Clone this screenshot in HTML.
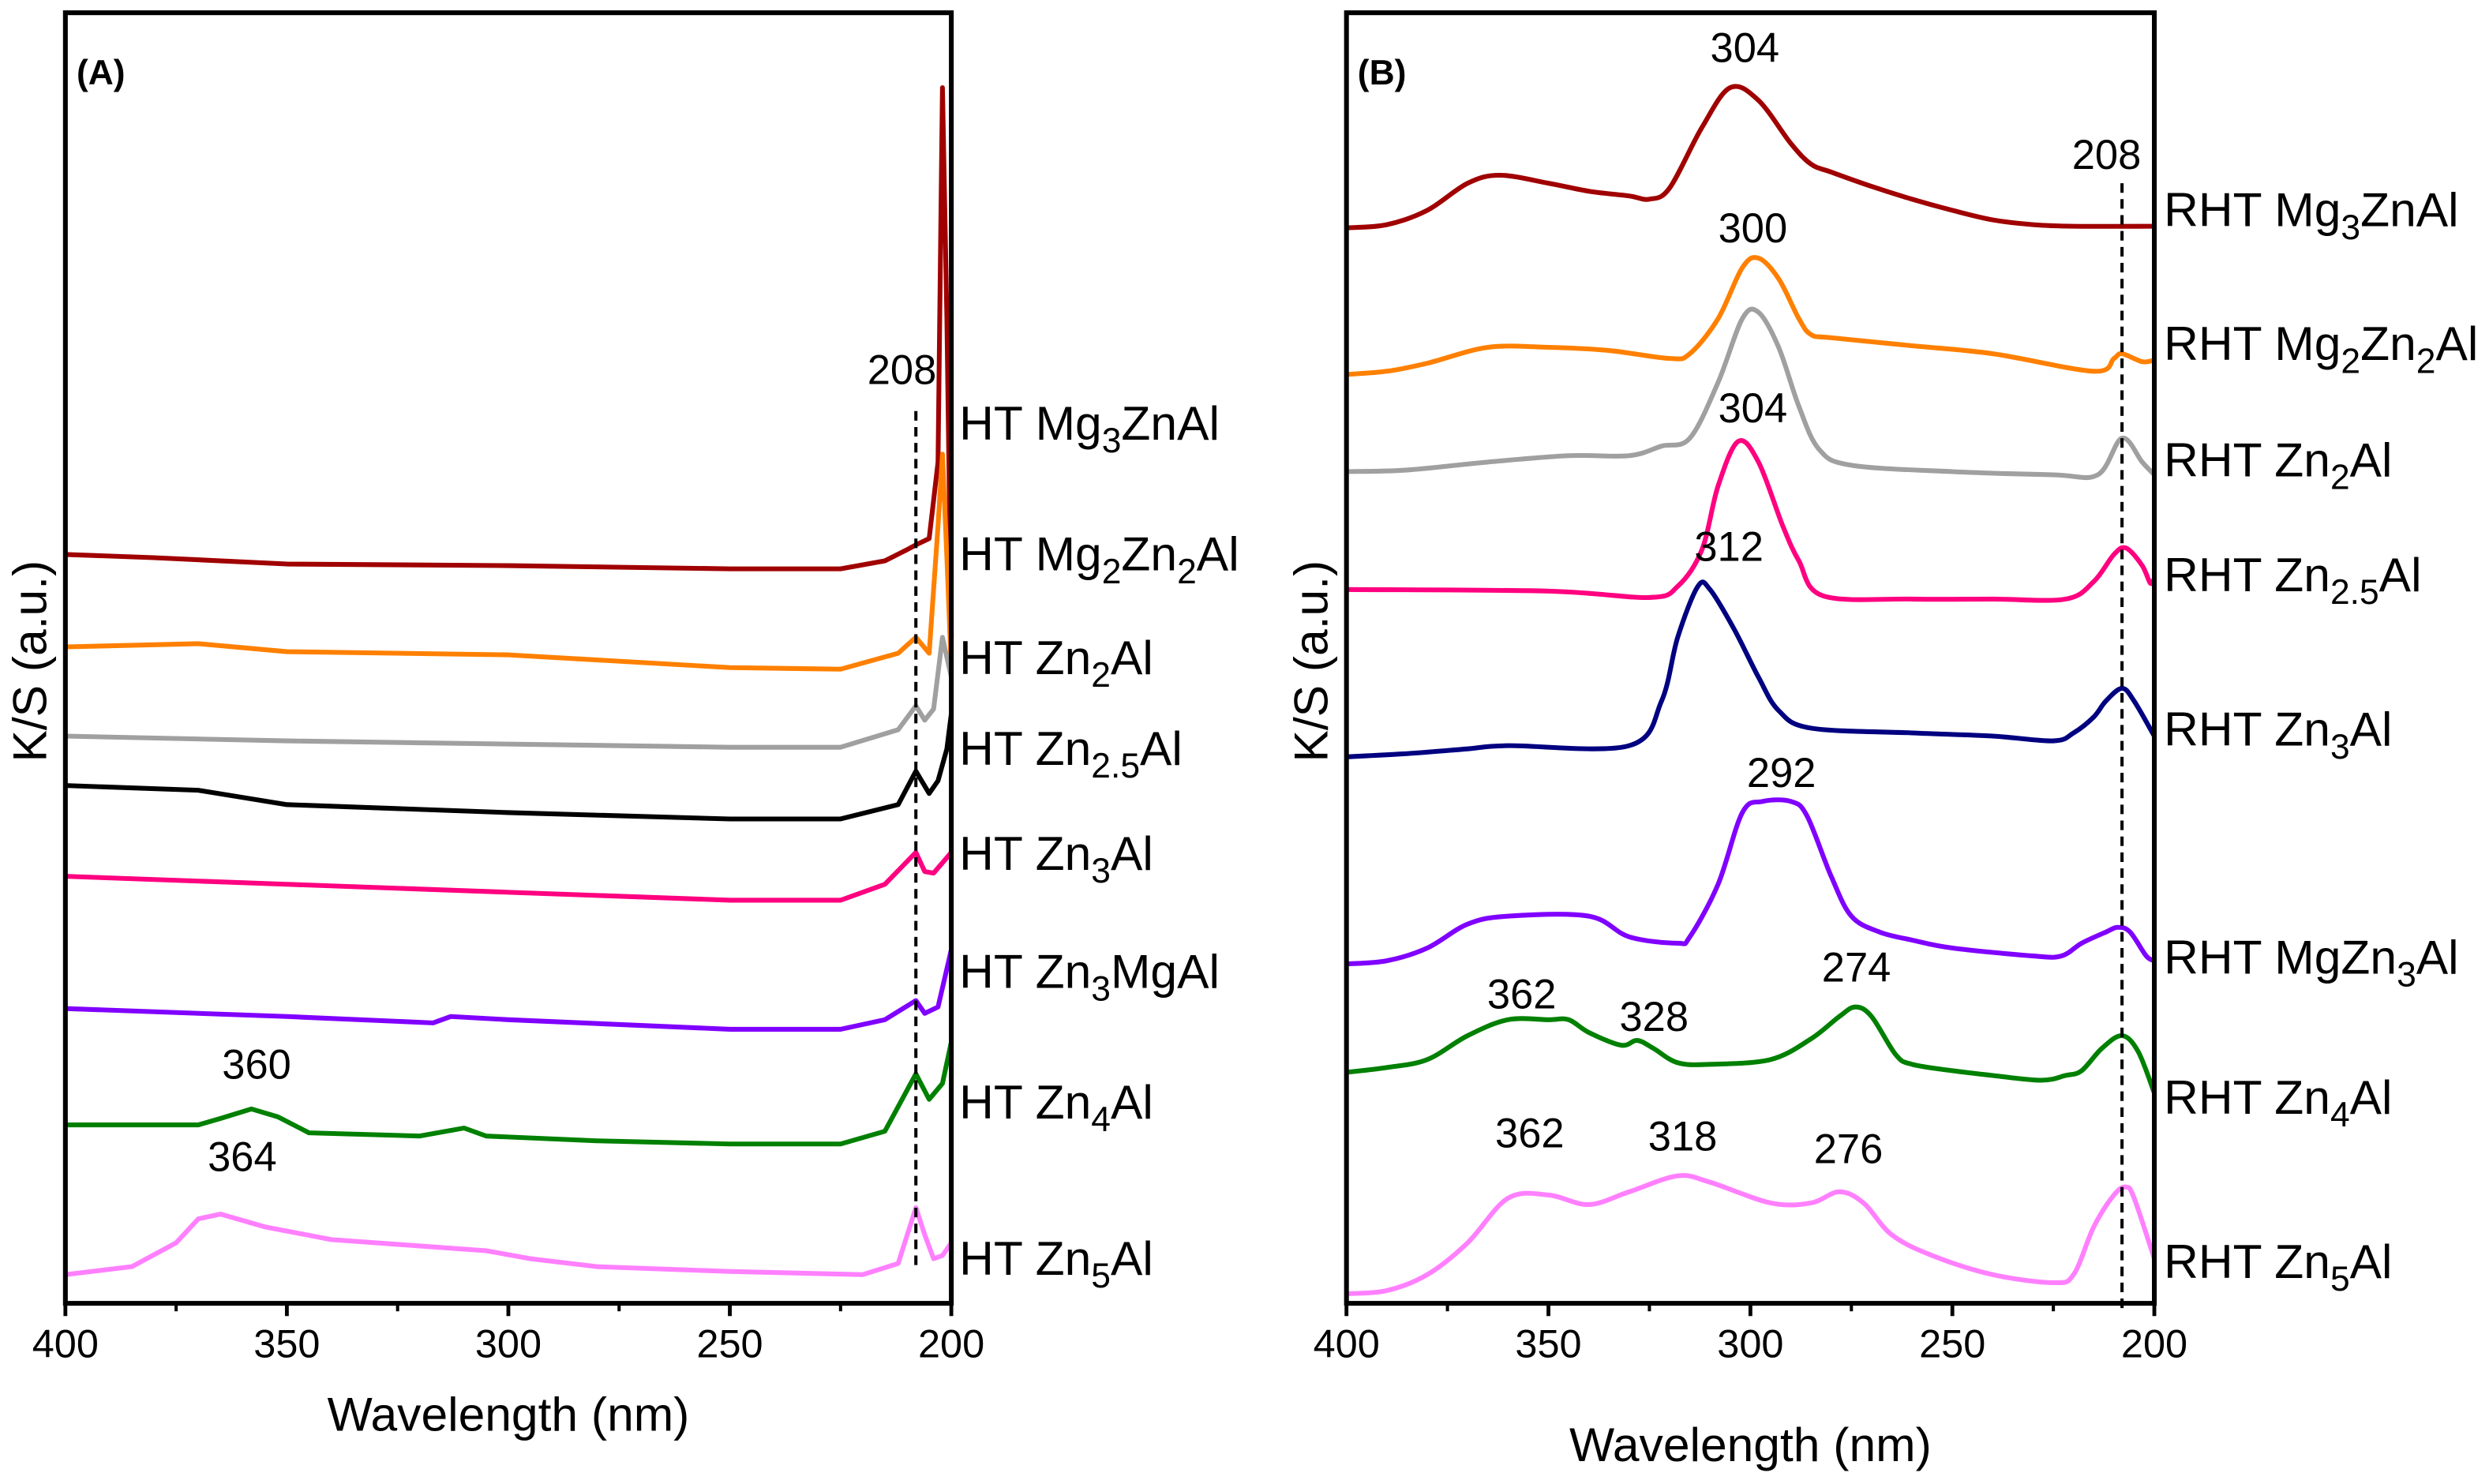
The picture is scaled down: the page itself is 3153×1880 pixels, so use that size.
<!DOCTYPE html>
<html><head><meta charset="utf-8"><style>
html,body{margin:0;padding:0;background:#fff}
svg{display:block}
text{font-family:"Liberation Sans",Arial,sans-serif;fill:#000}
</style></head><body>
<svg id="fig" width="3153" height="1880" viewBox="0 0 1562 931.4" xmlns="http://www.w3.org/2000/svg"></svg>
<script>
// ---- Panel A data ----
const aMg3ZnAlWl=[400,380,350,300,250,225,215,210,208,205,203,202,201,200];
const aMg3ZnAl=[470,468,464,463,461,461,466,473,476,480,528,763,618,418];
const aMg2Zn2AlWl=[400,370,350,300,250,225,212,208,205,203,202,201,200];
const aMg2Zn2Al=[412,414,409,407,399,398,408,418,408,488,533,468,398];
const aZn2AlWl=[400,350,300,250,225,212,208,206,204,202,200];
const aZn2Al=[356,353,351,349,349,360,375,366,373,418,393];
const aZn25AlWl=[400,370,350,320,300,250,225,212,208,205,203,201,200];
const aZn25Al=[325,322,313,310,308,304,304,313,334,320,328,348,370];
const aZn3AlWl=[400,350,320,300,250,225,215,208,206,204,200];
const aZn3Al=[268,263,260,258,253,253,263,283,271,270,283];
const aZn3MgAlWl=[400,350,317,313,300,250,225,215,208,206,203,200];
const aZn3MgAl=[185,180,176,180,178,172,172,178,190,182,186,222];
const aZn4AlWl=[400,370,365,358,352,345,320,310,305,280,250,225,215,208,205,202,200];
const aZn4Al=[112,112,116,122,117,107,105,110,105,102,100,100,108,144,128,138,164];
const aZn5AlWl=[400,385,375,370,365,355,340,320,305,295,280,250,220,212,208,206,204,202,200];
const aZn5Al=[18,23,38,53,56,48,40,36,33,28,23,20,18,25,60,43,28,30,38];
// ---- Panel B data ----
const bMg3ZnAlWl=[400,390,380,370,362,350,340,330,325,320,312,305,298,290,285,280,270,260,250,240,230,220,200];
const bMg3ZnAl=[675,677,686,703,708,703,698,695,693,700,738,763,755,728,715,710,701,693,686,680,677,676,676];
const bMg2Zn2AlWl=[400,390,380,365,350,335,320,315,308,302,298,293,288,285,280,260,240,215,210,208,203,200];
const bMg2Zn2Al=[583,585,590,600,600,598,593,596,618,650,656,643,618,608,606,601,596,585,593,596,591,592];
const bZn2AlWl=[400,385,365,345,330,322,315,308,302,298,293,288,283,275,250,225,214,208,203,200];
const bZn2Al=[522,523,528,532,532,538,543,578,618,622,600,563,536,526,522,520,520,543,528,520];
const bZn25AlWl=[400,350,325,318,312,308,303,298,292,288,282,260,240,222,215,210,207,203,201,200];
const bZn25Al=[448,447,443,450,473,513,541,528,488,466,444,442,442,442,453,470,474,463,452,455];
const bZn3AlWl=[400,385,370,360,330,322,318,313,310,304,298,293,285,260,240,225,220,215,212,208,205,200];
const bZn3Al=[343,345,348,350,350,378,418,450,448,423,393,372,361,358,356,353,358,368,378,386,378,356];
const bMgZn3AlWl=[400,390,380,370,360,340,330,318,315,308,302,297,290,286,280,275,268,260,250,230,223,218,212,209,206,202,200];
const bMgZn3Al=[213,215,223,238,243,243,230,226,230,263,308,315,315,306,268,243,233,228,223,218,218,226,233,236,233,218,215];
const bZn4AlWl=[400,390,380,370,360,350,345,340,332,328,324,318,310,295,285,278,274,270,264,260,250,240,228,222,218,213,208,204,200];
const bZn4Al=[145,148,153,168,178,178,178,170,162,165,160,151,150,153,166,180,186,180,156,150,146,143,140,143,146,160,168,158,132];
const bZn5AlWl=[400,390,380,370,360,350,340,330,318,310,295,285,278,272,265,255,240,225,220,215,210,207,205,200];
const bZn5Al=[6,8,18,38,66,68,62,70,80,76,63,63,70,63,43,30,18,13,18,48,68,73,66,28];
const xTicks=[400,350,300,250,200];
const xMinor=[375,325,275,225];

const NS="http://www.w3.org/2000/svg";
const svg=document.getElementById('fig');
function mk(tag,attrs,parent){const e=document.createElementNS(NS,tag);for(const k in attrs)e.setAttribute(k,attrs[k]);(parent||svg).appendChild(e);return e;}
function txt(parent,x,y,s,size,anchor,name,bold){const t=mk('text',{x:x,y:y,'font-size':size,'text-anchor':anchor||'start'},parent);if(bold)t.setAttribute('font-weight','bold');t.textContent=s;


return t;}

function panel(cfg){
  const g=mk('g',{});
  
  
  const L=cfg.left,R=cfg.right,T=8,B=818;
  const xs=w=>L+(400-w)/200*(R-L);
  const ys=v=>B-v/810*(B-T);
  cfg.series.forEach(s=>{
    const pts=s.wl.map((w,i)=>[xs(w),ys(s.v[i])]);
    let d;
    if(cfg.smooth){
      d='M'+pts[0][0]+','+pts[0][1];
      for(let i=0;i<pts.length-1;i++){
        const p0=pts[i-1]||pts[i],p1=pts[i],p2=pts[i+1],p3=pts[i+2]||p2;
        const c1=[p1[0]+(p2[0]-p0[0])/6,p1[1]+(p2[1]-p0[1])/6];
        const c2=[p2[0]-(p3[0]-p1[0])/6,p2[1]-(p3[1]-p1[1])/6];
        d+=' C'+c1[0]+','+c1[1]+' '+c2[0]+','+c2[1]+' '+p2[0]+','+p2[1];
      }
    } else d='M'+pts.map(p=>p[0]+','+p[1]).join(' L');
    const p=mk('path',{d:d,fill:'none',stroke:s.color,'stroke-width':3,'stroke-linejoin':'round'},g);
    
    
  });
  const dl=mk('line',{x1:xs(208),x2:xs(208),y1:cfg.dashTop,y2:cfg.dashBot,stroke:'#000','stroke-width':2,'stroke-dasharray':'6,4'},g);
  
  
  const fr=mk('rect',{x:L,y:T,width:R-L,height:B-T,fill:'none',stroke:'#000','stroke-width':3},g);
  
  
  xTicks.forEach(w=>{
    const tl=mk('line',{x1:xs(w),x2:xs(w),y1:B,y2:B+8,stroke:'#000','stroke-width':2.4},g);
    
    
    txt(g,xs(w),B+34,String(w),25,'middle','x-tick-label');
  });
  xMinor.forEach(w=>{
    const tl=mk('line',{x1:xs(w),x2:xs(w),y1:B,y2:B+5,stroke:'#000','stroke-width':2},g);
    
    
  });
  txt(g,(L+R)/2,cfg.titleY,'Wavelength (nm)',30,'middle','x-axis-title');
  const yt=txt(g,0,0,'K/S (a.u.)',30,'middle','y-axis-title');
  yt.setAttribute('transform','translate('+(L-12)+',415) rotate(-90)');
  txt(g,L+7,53,cfg.tag,22,'start','panel-label',true);
  cfg.labels.forEach(l=>{
    const t=mk('text',{x:cfg.labelX,y:l.y,'font-size':30},g);
    
    
    l.parts.forEach(pt=>{
      const ts=mk('tspan',{},t);
      if(pt[1]){ts.setAttribute('font-size',22);ts.setAttribute('dy',8);}
      else if(pt[2]){ts.setAttribute('dy',-8);}
      ts.textContent=pt[0];
    });
  });
  cfg.ann.forEach(a=>txt(g,a[1],a[2],a[0],26,'middle','peak-annotation'));
}

panel({name:'panel-a',left:41,right:597,tag:'(A)',smooth:false,titleY:898,dashTop:258,dashBot:797,labelX:602,
 series:[
  {name:'series-ht-mg3znal',color:'#a00000',wl:aMg3ZnAlWl,v:aMg3ZnAl},
  {name:'series-ht-mg2zn2al',color:'#ff8000',wl:aMg2Zn2AlWl,v:aMg2Zn2Al},
  {name:'series-ht-zn2al',color:'#a0a0a0',wl:aZn2AlWl,v:aZn2Al},
  {name:'series-ht-zn25al',color:'#000000',wl:aZn25AlWl,v:aZn25Al},
  {name:'series-ht-zn3al',color:'#ff0080',wl:aZn3AlWl,v:aZn3Al},
  {name:'series-ht-zn3mgal',color:'#8000ff',wl:aZn3MgAlWl,v:aZn3MgAl},
  {name:'series-ht-zn4al',color:'#008000',wl:aZn4AlWl,v:aZn4Al},
  {name:'series-ht-zn5al',color:'#ff80ff',wl:aZn5AlWl,v:aZn5Al}],
 labels:[
  {y:276,parts:[['HT Mg'],['3',1],['ZnAl',0,1]]},
  {y:358,parts:[['HT Mg'],['2',1],['Zn',0,1],['2',1],['Al',0,1]]},
  {y:423,parts:[['HT Zn'],['2',1],['Al',0,1]]},
  {y:480,parts:[['HT Zn'],['2.5',1],['Al',0,1]]},
  {y:546,parts:[['HT Zn'],['3',1],['Al',0,1]]},
  {y:620,parts:[['HT Zn'],['3',1],['MgAl',0,1]]},
  {y:702,parts:[['HT Zn'],['4',1],['Al',0,1]]},
  {y:800,parts:[['HT Zn'],['5',1],['Al',0,1]]}],
 ann:[['208',566,241],['360',161,677],['364',152,735]]});

panel({name:'panel-b',left:845,right:1352,tag:'(B)',smooth:true,titleY:917,dashTop:115,dashBot:822,labelX:1358,
 series:[
  {name:'series-rht-mg3znal',color:'#a00000',wl:bMg3ZnAlWl,v:bMg3ZnAl},
  {name:'series-rht-mg2zn2al',color:'#ff8000',wl:bMg2Zn2AlWl,v:bMg2Zn2Al},
  {name:'series-rht-zn2al',color:'#a0a0a0',wl:bZn2AlWl,v:bZn2Al},
  {name:'series-rht-zn25al',color:'#ff0080',wl:bZn25AlWl,v:bZn25Al},
  {name:'series-rht-zn3al',color:'#000080',wl:bZn3AlWl,v:bZn3Al},
  {name:'series-rht-mgzn3al',color:'#8000ff',wl:bMgZn3AlWl,v:bMgZn3Al},
  {name:'series-rht-zn4al',color:'#008000',wl:bZn4AlWl,v:bZn4Al},
  {name:'series-rht-zn5al',color:'#ff80ff',wl:bZn5AlWl,v:bZn5Al}],
 labels:[
  {y:142,parts:[['RHT Mg'],['3',1],['ZnAl',0,1]]},
  {y:226,parts:[['RHT Mg'],['2',1],['Zn',0,1],['2',1],['Al',0,1]]},
  {y:299,parts:[['RHT Zn'],['2',1],['Al',0,1]]},
  {y:371,parts:[['RHT Zn'],['2.5',1],['Al',0,1]]},
  {y:468,parts:[['RHT Zn'],['3',1],['Al',0,1]]},
  {y:611,parts:[['RHT MgZn'],['3',1],['Al',0,1]]},
  {y:699,parts:[['RHT Zn'],['4',1],['Al',0,1]]},
  {y:802,parts:[['RHT Zn'],['5',1],['Al',0,1]]}],
 ann:[['304',1095,39],['208',1322,106],['300',1100,152],['304',1100,265],['312',1085,352],['292',1118,494],['274',1165,616],['362',955,633],['328',1038,647],['362',960,720],['318',1056,722],['276',1160,730]]});
</script>
</body></html>
